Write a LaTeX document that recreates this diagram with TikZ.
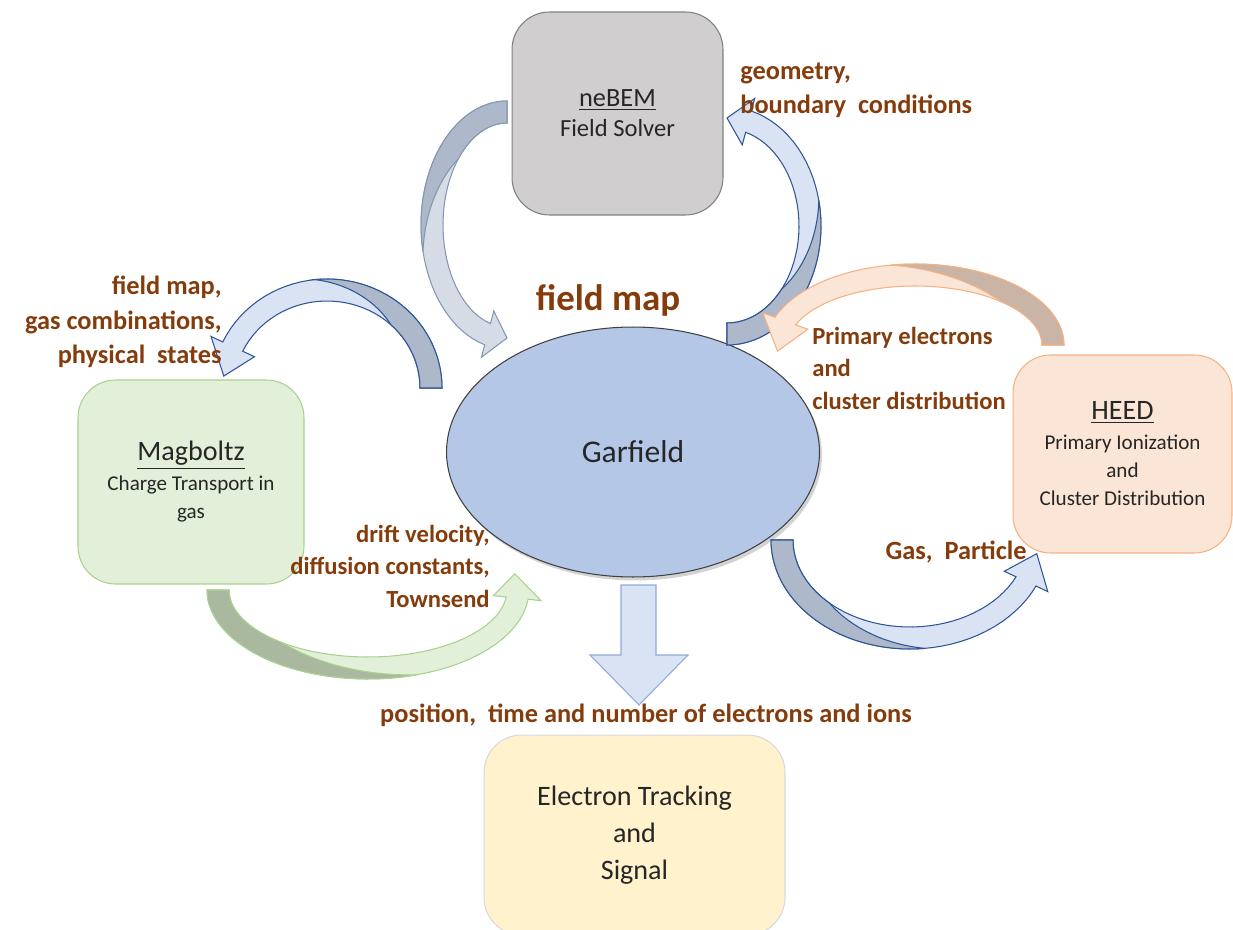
\documentclass[tikz,border=0pt]{standalone}
\usepackage{fontspec}
\setmainfont{Carlito}
\usetikzlibrary{shapes.geometric,shadows}

\definecolor{labelbrown}{HTML}{843C0C}
\definecolor{boxtext}{HTML}{262626}
\definecolor{grayLine}{HTML}{8497B0}
\definecolor{grayDark}{HTML}{ADB9CA}
\definecolor{grayLight}{HTML}{D6DCE5}
\definecolor{blueLine}{HTML}{2F5597}
\definecolor{blueDark}{HTML}{ADB9CA}
\definecolor{blueLight}{HTML}{DAE3F3}
\definecolor{greenLine}{HTML}{A9D18E}
\definecolor{greenDark}{HTML}{AAB8A0}
\definecolor{greenLight}{HTML}{E2F0D9}
\definecolor{orangeLine}{HTML}{F4B183}
\definecolor{orangeDark}{HTML}{C9B4A6}
\definecolor{orangeLight}{HTML}{FBE5D6}
\definecolor{downLine}{HTML}{8FAADC}
\definecolor{solverFill}{HTML}{D0CECE}
\definecolor{garfieldFill}{HTML}{B4C7E7}
\definecolor{trackFill}{HTML}{FFF2CC}

% half widths of the band and of the head
\newcommand{\bandhw}{11}
\newcommand{\headhw}{24}

% #1 colour set, #2 #3 centre, #4 #5 radii, #6 start angle, #7 head angle, #8 tip angle
\newcommand{\bentarrow}[8]{%
	\pgfmathsetmacro{\afull}{(#6)+0.3*((#7)-(#6))}
	\pgfmathsetmacro{\amid}{(#6)+0.62*((#7)-(#6))}
	\filldraw[draw=#1Line, fill=#1Light, line width=0.6pt]
		plot[domain=#6:#7, samples=40] ({#2+(#4+\bandhw)*cos(\x)}, {#3+(#5+\bandhw)*sin(\x)})
		-- ({#2+(#4+\headhw)*cos(#7)}, {#3+(#5+\headhw)*sin(#7)})
		-- ({#2+#4*cos(#8)}, {#3+#5*sin(#8)})
		-- ({#2+(#4-\headhw)*cos(#7)}, {#3+(#5-\headhw)*sin(#7)})
		-- plot[domain=#7:#6, samples=40] ({#2+(#4-\bandhw)*cos(\x)}, {#3+(#5-\bandhw)*sin(\x)})
		-- cycle;
	\filldraw[draw=#1Line, fill=#1Dark, line width=0.6pt]
		plot[domain=#6:\amid, samples=30] ({#2+(#4+\bandhw)*cos(\x)}, {#3+(#5+\bandhw)*sin(\x)})
		-- plot[domain=\amid:\afull, samples=30] ({#2+(#4+\bandhw-2*\bandhw*(\x-(\amid))/((\afull)-(\amid)))*cos(\x)}, {#3+(#5+\bandhw-2*\bandhw*(\x-(\amid))/((\afull)-(\amid)))*sin(\x)})
		-- plot[domain=\afull:#6, samples=20] ({#2+(#4-\bandhw)*cos(\x)}, {#3+(#5-\bandhw)*sin(\x)})
		-- cycle;
}

\tikzset{
	box/.style={rectangle, rounded corners=0.75cm, line width=0.6pt, align=center,
		text=boxtext, font=\fontsize{12}{16}\selectfont},
	lbl/.style={text=labelbrown, inner sep=0pt, font=\bfseries\fontsize{15}{19.5}\selectfont},
	smalllbl/.style={lbl, font=\bfseries\fontsize{14}{18.5}\selectfont}
}

\begin{document}
\begin{tikzpicture}[x=0.02cm, y=-0.02cm]

	\useasboundingbox (0,0) rectangle (1233,929);

	% blocks
	\node (nebem) [box, fill=solverFill, draw=black!50, minimum width=4.22cm, minimum height=4.06cm]
		at (617.5,113.5) {{\fontsize{15}{19}\selectfont\underline{neBEM}}\\[1pt]{\fontsize{14}{18}\selectfont Field Solver}};
	\node (magboltz) [box, fill=greenLight, draw=greenLine, minimum width=4.52cm, minimum height=4.08cm]
		at (191,482) {{\fontsize{16}{20}\selectfont\underline{Magboltz}}\\[1pt]Charge Transport in\\gas};
	\node (heed) [box, fill=orangeLight, draw=orangeLine, minimum width=4.38cm, minimum height=3.96cm]
		at (1122.5,454) {{\fontsize{16}{20}\selectfont\underline{HEED}}\\[1pt]Primary\ Ionization\\and\\Cluster Distribution};
	\node (tracking) [box, fill=trackFill, draw=black!15, minimum width=6.02cm, minimum height=4cm,
		font=\fontsize{16}{21}\selectfont] at (634.5,835) {Electron Tracking\\and\\Signal};

	\node (garfield) [ellipse, fill=garfieldFill, draw=black!75, line width=0.6pt,
		minimum width=7.46cm, minimum height=5cm, text=boxtext, font=\fontsize{18}{22}\selectfont,
		drop shadow={opacity=0.35, shadow xshift=0.05cm, shadow yshift=-0.07cm}] at (633,452) {Garfield};

	% curved arrows
	\bentarrow{gray}{507}{225}{75}{113}{270}{105}{90}
	\bentarrow{blue}{727}{226}{83}{108}{90}{-75}{-90}
	\bentarrow{blue}{327}{388}{104}{98}{0}{-155}{-173}
	\bentarrow{green}{368}{590}{150}{78}{180}{6}{-12}
	\bentarrow{blue}{910}{540}{128}{98}{180}{25}{8}
	\bentarrow{orange}{915}{345}{138}{70}{0}{-160}{-185}

	% down arrow
	\draw[fill=blueLight, draw=downLine, line width=0.6pt] (621,585) -- (656,585) -- (656,655) -- (688,655)
		-- (639,705) -- (590,655) -- (621,655) -- cycle;

	% labels
	\node (lgeo) [lbl, anchor=west, align=left] at (740,90) {geometry,\\boundary\ \ conditions};
	\node (lfield) [lbl, font=\bfseries\fontsize{21}{25}\selectfont] at (608,300) {field map};
	\node (lgas) [lbl, anchor=east, align=right] at (222,322) {field map,\\gas combinations,\\physical\ \ states};
	\node (ldrift) [smalllbl, anchor=east, align=right] at (490,566) {drift velocity,\\diffusion constants,\\Townsend};
	\node (lprim) [smalllbl, anchor=west, align=left] at (812,368) {Primary electrons\\and\\cluster distribution};
	\node (lpart) [lbl, anchor=east] at (1027,552) {Gas,\ \ Particle};
	\node (lpos) [lbl] at (646,715) {position,\ \ time and number of electrons and ions};

\end{tikzpicture}
\end{document}
